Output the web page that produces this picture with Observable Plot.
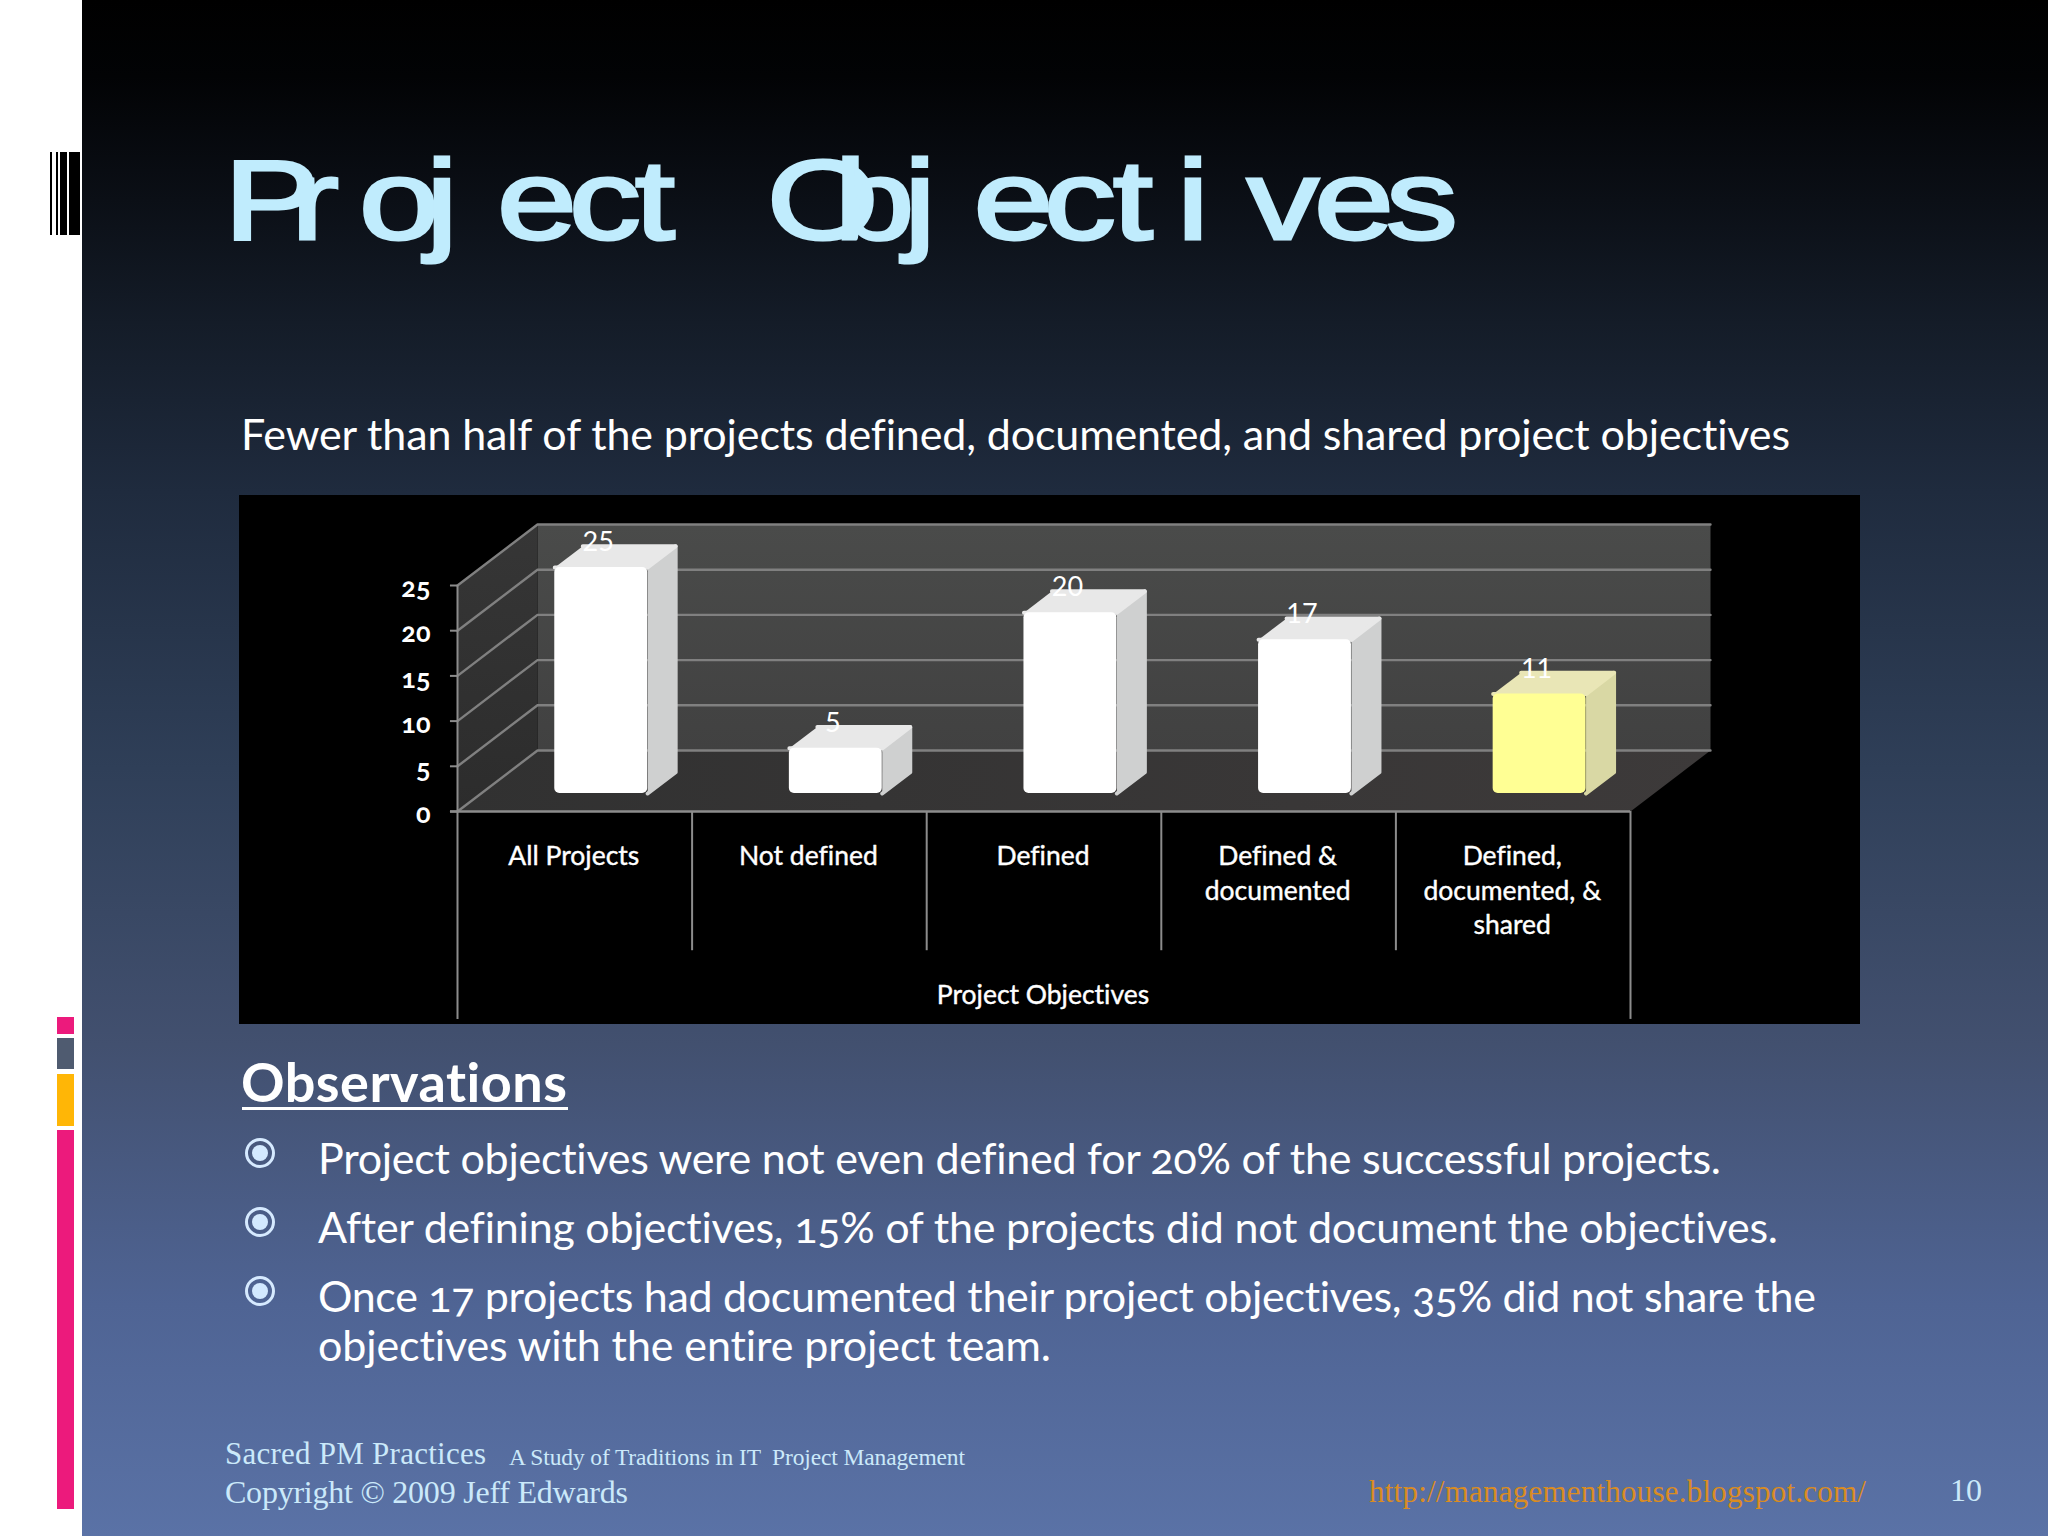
<!DOCTYPE html>
<html><head><meta charset="utf-8">
<script src="https://cdn.jsdelivr.net/npm/d3@7"></script>
<script src="https://cdn.jsdelivr.net/npm/@observablehq/plot@0.6"></script>
<style>
html,body{margin:0;padding:0;background:#fff}
body{width:2048px;height:1536px;position:relative;overflow:hidden;font-family:Lato,"Open Sans",sans-serif;color:#fff;font-variant-ligatures:none;font-feature-settings:"onum" 1,"liga" 0}
#bg{position:absolute;left:82px;top:0;width:1966px;height:1536px;background:linear-gradient(#000 0%,#020305 5%,#0b0f16 13%,#141c28 21%,#1f2b3e 32%,#2f3f58 50%,#42506f 68%,#4f6494 85%,#5a72a6 100%)}
.abs{position:absolute;white-space:nowrap;transform:translateY(-50%);line-height:1.2}
.bar{position:absolute;left:57px;width:17px}
.code{position:absolute;top:152px;height:83px;background:#000}
.bullet{position:absolute;left:245px;width:24px;height:24px;border:3px solid #d6eaff;border-radius:50%;transform:translateY(-50%)}
.bullet i{position:absolute;left:4px;top:4px;width:16px;height:16px;border-radius:50%;background:#d3e9ff}
#title{position:absolute;left:0;top:0}
#chart{position:absolute;left:239px;top:495px;width:1621px;height:529px;background:#000}
#chart svg{display:block}
.foot{font-family:"Liberation Serif",serif;color:#cbe9fa;font-feature-settings:normal}
.foot.url{color:#da8c22}
</style></head><body>
<div id="bg"></div>
<div class="code" style="left:50px;width:2px"></div><div class="code" style="left:56px;width:2px"></div><div class="code" style="left:60px;width:7px"></div><div class="code" style="left:69px;width:11px"></div>
<div class="bar" style="top:1017px;height:17px;background:#ec1a7c"></div>
<div class="bar" style="top:1038px;height:31px;background:#4f5b70"></div>
<div class="bar" style="top:1074px;height:52px;background:#ffb606"></div>
<div class="bar" style="top:1130px;height:379px;background:#ec1a7c"></div>

<svg id="title" width="2048" height="300"><text id="titleText" transform="scale(1.26,1)" y="239" font-family="Liberation Sans" font-size="114" fill="#c0ecfd" stroke="#c0ecfd" stroke-width="3">Project Objectives</text></svg>

<div class="abs fit" data-w="1549" style="left:241px;top:434px;font-size:43px">Fewer than half of the projects defined, documented, and shared project objectives</div>
<div id="chart"></div>
<div class="abs fit" data-w="326" style="left:241px;top:1082px;font-size:54px;font-weight:700">Observations</div>
<div style="position:absolute;left:242px;top:1107px;width:326px;height:3px;background:#fff"></div>
<div class="bullet" style="top:1153px"><i></i></div><div class="bullet" style="top:1222px"><i></i></div><div class="bullet" style="top:1291px"><i></i></div>
<div class="abs fit" data-w="1403" style="left:318px;top:1158px;font-size:43px">Project objectives were not even defined for 20% of the successful projects.</div>
<div class="abs fit" data-w="1460" style="left:318px;top:1227px;font-size:43px">After defining objectives, 15% of the projects did not document the objectives.</div>
<div class="abs fit" data-w="1498" style="left:318px;top:1296px;font-size:43px">Once 17 projects had documented their project objectives, 35% did not share the</div>
<div class="abs fit" data-w="733" style="left:318px;top:1345px;font-size:43px">objectives with the entire project team.</div>
<div class="abs foot fit" data-w="261" style="left:225px;top:1454px;font-size:31px">Sacred PM Practices</div>
<div class="abs foot fit" data-w="456" style="left:509px;top:1457px;font-size:23.5px">A Study of Traditions in IT  Project Management</div>
<div class="abs foot fit" data-w="403" style="left:225px;top:1492px;font-size:32px">Copyright © 2009 Jeff Edwards</div>
<div class="abs foot url fit" data-w="497" style="left:1369px;top:1492px;font-size:31px">http://managementhouse.blogspot.com/</div>
<div class="abs foot" style="left:1950px;top:1490px;font-size:32px">10</div>
<script>
const categories=["All Projects","Not defined","Defined","Defined &\ndocumented","Defined,\ndocumented, &\nshared"];
const values=[25,5,20,17,11];
const yTicks=[0,5,10,15,20,25];
const axisTitle="Project Objectives";

// title glyph origins, as the slide spaces them
const titleX=[224,291,359,426,497,569,635,700,767,834.5,904,973.5,1044,1113,1177,1247,1314,1386];
document.getElementById("titleText").setAttribute("x",titleX.map(v=>(v/1.26).toFixed(1)).join(" "));

// fit text widths
document.querySelectorAll(".fit").forEach(el=>{
  el.style.whiteSpace="pre";
  const w=el.getBoundingClientRect().width, len=el.textContent.length;
  el.style.letterSpacing=((+el.dataset.w-w)/(len-1)).toFixed(3)+"px";
});

// oblique projection: a depth d in [0,1] shifts x (in categories) and y (in value units)
const dX=0.341,dV=6.75;
const P=(x,v,d)=>({x:x+dX*d,y:v+dV*d});
const face=(pts,fill,extra={})=>Plot.line(pts.map(p=>P(...p)),{x:"x",y:"y",fill,stroke:fill.startsWith("url(")?"none":fill,strokeWidth:1,...extra});
const n=categories.length,yMax=yTicks[yTicks.length-1];
const front=0.295,back=0.645,gap=0.314,bw=0.396;
const grad=(id,vertical,c1,c2)=>{
  const g=d3.create("svg:linearGradient").attr("id",id).attr("x1",0).attr("y1",0).attr("x2",vertical?0:1).attr("y2",vertical?1:0);
  g.append("stop").attr("offset",0).attr("stop-color",c1);
  g.append("stop").attr("offset",1).attr("stop-color",c2);
  return g;
};
const defs=()=>{
  const d=d3.create("svg:defs");
  d.append(()=>grad("wall",true,"#4a4b4a","#414141").node());
  d.append(()=>grad("side",true,"#363636","#2c2c2c").node());
  d.append(()=>grad("floor",false,"#313131","#3d3a3a").node());
  return d.node();
};
const marks=[
  defs,
  face([[0,0,1],[n,0,1],[n,yMax,1],[0,yMax,1]],"url(#wall)"),
  face([[0,0,0],[0,0,1],[0,yMax,1],[0,yMax,0]],"url(#side)"),
  face([[0,0,0],[n,0,0],[n,0,1],[0,0,1]],"url(#floor)"),
];
yTicks.forEach(t=>{
  marks.push(Plot.line([P(0,t,0),P(0,t,1),P(n,t,1)],{x:"x",y:"y",stroke:"#808080",strokeWidth:2.4}));
});
marks.push(Plot.ruleX([0],{y1:-23,y2:yMax,stroke:"#8c8c8c",strokeWidth:2}));
marks.push(Plot.ruleX([n],{y1:-23,y2:0,stroke:"#8c8c8c",strokeWidth:2}));
marks.push(Plot.ruleX(d3.range(1,n),{y1:-15.4,y2:0,stroke:"#8c8c8c",strokeWidth:2}));
marks.push(Plot.ruleY([0],{x1:-0.03,x2:n,stroke:"#8c8c8c",strokeWidth:2.4}));
marks.push(Plot.ruleY(yTicks,{x1:-0.03,x2:0,stroke:"#8c8c8c",strokeWidth:2}));

values.forEach((v,i)=>{
  const last=i===n-1;
  const x1=i+gap,x2=x1+bw;
  marks.push(face([[x2,0,front],[x2,0,back],[x2,v,back],[x2,v,front]],last?"#d9d8a4":"#cfd0d0",{strokeWidth:4,strokeLinejoin:"round"}));
  marks.push(face([[x1,v,front],[x2,v,front],[x2,v,back],[x1,v,back]],last?"#e9e6b6":"#e8e8e8",{strokeWidth:4,strokeLinejoin:"round"}));
  marks.push(Plot.rect([0],{x1:x1+dX*front,x2:x2+dX*front,y1:dV*front,y2:v+dV*front,fill:last?"#ffff94":"#ffffff",rx:5}));
});
const font={fontFamily:"Lato",fill:"#fff"};
const heavy={stroke:"#fff",strokeWidth:0.4};
marks.push(Plot.text(values,{x:(d,i)=>i+gap+bw/2+dX*front,y:d=>d+dV*front,dx:-3,dy:-25,text:d=>String(d),fontSize:27,fontVariant:"lining-nums",...font}));
marks.push(Plot.text(yTicks,{x:0,y:d=>d,dx:-27,dy:3,text:d=>String(d),textAnchor:"end",fontSize:27,fontWeight:700,fontVariant:"oldstyle-nums",...font}));
marks.push(Plot.text(categories,{x:(d,i)=>i+0.5,dx:-1,y:-3.2,text:d=>d,lineAnchor:"top",lineHeight:1.31,fontSize:26.5,...font,...heavy}));
marks.push(Plot.text([axisTitle],{x:n/2,dx:-1,y:-20.4,text:d=>d,fontSize:26.5,...font,...heavy}));

document.getElementById("chart").append(Plot.plot({
  width:1621,height:529,marginLeft:218,marginRight:230,marginTop:90,marginBottom:213,
  style:{background:"transparent",overflow:"visible"},
  x:{domain:[0,n],axis:null},y:{domain:[0,yMax],axis:null},
  marks}));
</script>
</body></html>
